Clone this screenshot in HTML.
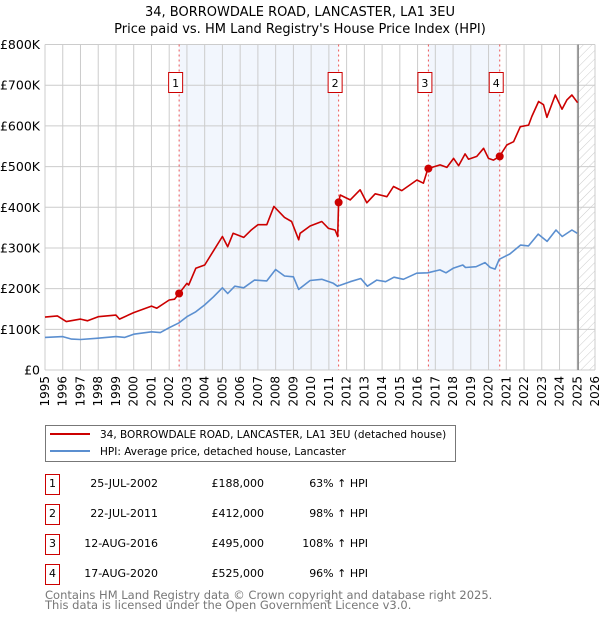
<!DOCTYPE html>
<html><head><meta charset="utf-8"><style>
body{margin:0;background:#fff;font-family:"DejaVu Sans","Liberation Sans",sans-serif;}
svg text{font-family:"DejaVu Sans","Liberation Sans",sans-serif;}
</style></head><body>
<svg id="c" width="600" height="620">
<defs><pattern id="h" width="6" height="6" patternUnits="userSpaceOnUse" patternTransform="rotate(45)"><line x1="0" y1="0" x2="0" y2="6" stroke="#ccc" stroke-width="1"/></pattern></defs>
<text x="300" y="16" text-anchor="middle" font-size="13">34, BORROWDALE ROAD, LANCASTER, LA1 3EU</text>
<text x="300" y="33" text-anchor="middle" font-size="13">Price paid vs. HM Land Registry's House Price Index (HPI)</text>
<g id="plot"></g>
<g>
<rect x="45.5" y="425.5" width="410" height="36" fill="#fff" stroke="#777"/>
<line x1="50" y1="434" x2="90" y2="434" stroke="#cc0000" stroke-width="2"/>
<text x="100" y="438" font-size="10.5">34, BORROWDALE ROAD, LANCASTER, LA1 3EU (detached house)</text>
<line x1="50" y1="451" x2="90" y2="451" stroke="#5b8fd0" stroke-width="2"/>
<text x="100" y="455" font-size="10.5">HPI: Average price, detached house, Lancaster</text>
</g>
<g id="tbl" font-size="11"></g>
<text x="45" y="599" font-size="11.5" fill="#777">Contains HM Land Registry data © Crown copyright and database right 2025.</text>
<text x="45" y="609" font-size="11.5" fill="#777">This data is licensed under the Open Government Licence v3.0.</text>
</svg>
<script>
const yTicks=[0,100000,200000,300000,400000,500000,600000,700000,800000];
const yTickLabels=["£0","£100K","£200K","£300K","£400K","£500K","£600K","£700K","£800K"];
const years=[1995,1996,1997,1998,1999,2000,2001,2002,2003,2004,2005,2006,2007,2008,2009,2010,2011,2012,2013,2014,2015,2016,2017,2018,2019,2020,2021,2022,2023,2024,2025,2026];
const hpiT=[1995,1996,1996.5,1997,1997.9,1999,1999.5,2000,2001,2001.5,2002,2002.56,2003,2003.5,2004,2004.5,2005,2005.3,2005.7,2006.2,2006.8,2007.5,2008,2008.5,2009,2009.3,2009.94,2010.6,2011.25,2011.48,2012.2,2012.8,2013.17,2013.7,2014.2,2014.67,2015.2,2015.95,2016.57,2017.26,2017.6,2018.0,2018.55,2018.7,2019.3,2019.8,2020.1,2020.37,2020.6,2021.2,2021.8,2022.25,2022.8,2023.3,2023.8,2024.15,2024.7,2025.0];
const hpiV=[80,82,76,75,78,82,80,88,94,92,104,116,131,143,160,180,202,188,206,202,221,219,247,231,229,198,220,223,213,206,217,225,206,221,217,228,223,238,239,246,239,250,258,252,254,264,252,248,272,285,307,305,334,316,344,328,344,336];
const propT=[1995,1995.7,1996.2,1997,1997.4,1998,1999,1999.2,2000,2001,2001.3,2002,2002.3,2002.56,2003,2003.1,2003.5,2004,2004.5,2005,2005.3,2005.6,2006.2,2006.6,2007,2007.5,2007.9,2008.5,2008.9,2009.3,2009.38,2009.94,2010.6,2010.98,2011.35,2011.5,2011.55,2011.64,2012.2,2012.76,2013.14,2013.61,2014.27,2014.64,2015.11,2015.96,2016.33,2016.58,2017.27,2017.65,2018.03,2018.31,2018.68,2018.87,2019.34,2019.72,2020.0,2020.28,2020.62,2021.03,2021.41,2021.79,2022.26,2022.44,2022.82,2023.1,2023.29,2023.76,2024.14,2024.42,2024.7,2025.02];
const propV=[130,133,119,125,121,131,135,125,141,157,152,172,174,188,213,209,250,258,293,328,303,336,326,343,357,357,402,375,365,320,336,354,365,348,344,328,412,430,418,443,411,433,426,451,441,467,459,495,504,498,520,502,531,518,525,545,520,516,525,553,561,598,602,623,660,652,621,676,641,664,676,657];
const saleT=[2002.56,2011.55,2016.61,2020.63];
const saleV=[188000,412000,495000,525000];
const saleDates=["25-JUL-2002","22-JUL-2011","12-AUG-2016","17-AUG-2020"];
const salePrices=["£188,000","£412,000","£495,000","£525,000"];
const saleHpi=["63% ↑ HPI","98% ↑ HPI","108% ↑ HPI","96% ↑ HPI"];

const NS="http://www.w3.org/2000/svg";
const X0=45,X1=595,Y0=370,Y1=44.5;
const xs=t=>X0+(t-1995)*(X1-X0)/31;
const ys=v=>Y0-v*(Y0-Y1)/800000;
const g=document.getElementById('plot');
function mk(tag,at,par){const e=document.createElementNS(NS,tag);for(const k in at)e.setAttribute(k,at[k]);(par||g).appendChild(e);return e;}
let e;
e=mk('rect',{x:X0,y:Y1,width:X1-X0,height:Y0-Y1,fill:'#fff'});


for(let i=0;i<saleT.length;i+=2){
 e=mk('rect',{x:xs(saleT[i]),y:Y1,width:xs(saleT[i+1])-xs(saleT[i]),height:Y0-Y1,fill:'#f2f6fd'});
 
 
}
e=mk('rect',{x:xs(2025.05),y:Y1,width:X1-xs(2025.05),height:Y0-Y1,fill:'url(#h)'});


years.forEach(y=>{
 e=mk('line',{x1:xs(y),x2:xs(y),y1:Y1,y2:Y0,stroke:'#ccc'});
 
 
 e=mk('text',{x:0,y:0,'font-size':12,'text-anchor':'end',transform:`translate(${xs(y)+4},${Y0+6}) rotate(-90)`});
 e.textContent=y;
 
 
});
yTicks.forEach((v,i)=>{
 e=mk('line',{x1:X0,x2:X1,y1:ys(v),y2:ys(v),stroke:'#ccc'});
 
 
 e=mk('text',{x:40,y:ys(v)+4.5,'font-size':12.5,'text-anchor':'end'});
 e.textContent=yTickLabels[i];
 
 
});
e=mk('line',{x1:xs(2025.05),x2:xs(2025.05),y1:Y1,y2:Y0,stroke:'#888','stroke-width':1.5});


saleT.forEach((t,i)=>{
 e=mk('line',{x1:xs(t),x2:xs(t),y1:Y1,y2:Y0,stroke:'#ee5555','stroke-dasharray':'2,3'});
 
 
});
function path(T,V,col,name){
 const d=T.map((t,i)=>(i?'L':'M')+xs(t).toFixed(1)+','+ys(V[i]*1000).toFixed(1)).join('');
 const p=mk('path',{d:d,fill:'none',stroke:col,'stroke-width':1.6,'stroke-linejoin':'round'});
 
 
}
path(hpiT,hpiV,'#5b8fd0','hpi-line');
path(propT,propV,'#cc0000','property-line');
saleT.forEach((t,i)=>{
 e=mk('circle',{cx:xs(t),cy:ys(saleV[i]),r:4,fill:'#cc0000'});
 
 
 const bx=xs(t)-11;
 e=mk('rect',{x:bx+0.5,y:72.5,width:14,height:20,fill:'#fff',stroke:'#cc0000'});
 
 
 e=mk('text',{x:bx+7.5,y:87,'font-size':11,'text-anchor':'middle'});
 e.textContent=i+1;
 
 
});
const tb=document.getElementById('tbl');
saleT.forEach((t,i)=>{
 const cy=487+i*30;
 e=mk('rect',{x:45.5,y:cy-12.5,width:14,height:20,fill:'#fff',stroke:'#cc0000'},tb);
 
 
 e=mk('text',{x:52.5,y:cy,'text-anchor':'middle'},tb);e.textContent=i+1;
 
 
 e=mk('text',{x:158,y:cy,'text-anchor':'end'},tb);e.textContent=saleDates[i];
 
 
 e=mk('text',{x:264,y:cy,'text-anchor':'end'},tb);e.textContent=salePrices[i];
 
 
 e=mk('text',{x:368,y:cy,'text-anchor':'end'},tb);e.textContent=saleHpi[i];
 
 
});
</script>
</body></html>
